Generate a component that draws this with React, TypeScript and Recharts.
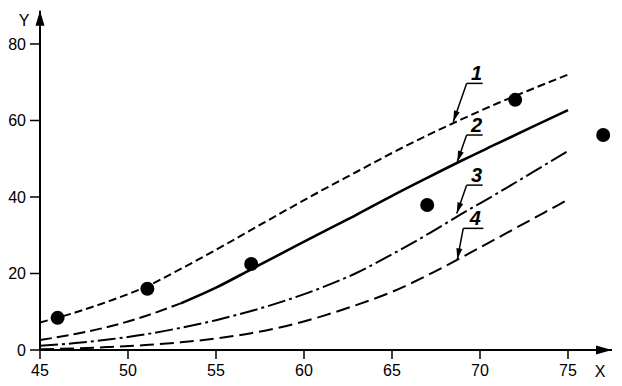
import React from 'react';
import { ComposedChart, Line, XAxis, YAxis, ReferenceLine } from 'recharts';

// ---- data ----
const curveX = [45, 47, 49, 51, 53, 55, 57, 59, 61, 63, 65, 67, 69, 71, 73, 75];
const curve1 = [7.2, 9.8, 12.9, 16.5, 21.2, 26.2, 31.4, 36.6, 41.7, 46.6, 51.5, 56.1, 60.4, 64.5, 68.3, 72];
const curve2 = [2.6, 4.2, 6.2, 8.9, 12.2, 16.3, 21.1, 25.9, 30.7, 35.4, 40.3, 45.0, 49.6, 54.0, 58.4, 62.7];
const curve2SolidFrom = 53;
const curve3 = [1.1, 1.8, 2.8, 4.1, 5.8, 7.8, 10.2, 13, 16.3, 20.2, 25, 30.2, 35.7, 41, 46.5, 52];
const curve4 = [0.2, 0.4, 0.8, 1.3, 2.0, 3.0, 4.4, 6.3, 8.8, 11.8, 15.2, 19.5, 24.3, 29.3, 34.3, 39.3];

const pointX = [46, 51.1, 57, 67, 72, 77];
const pointY = [8.4, 16, 22.5, 37.9, 65.4, 56.2];

const xTicks = [45, 50, 55, 60, 65, 70, 75];
const yTicks = [0, 20, 40, 60, 80];
const xDomain = [45, 77.5];
const yDomain = [0, 88.7];

const curveLabels = ['1', '2', '3', '4'];
// callout leader geometry in data units: tip on curve, elbow, end of underline
const calloutTip = [
  [68.48, 59.7],
  [68.71, 49.2],
  [68.68, 35.7],
  [68.71, 23.7],
];
const calloutElbow = [
  [69.24, 69.7],
  [69.24, 56.2],
  [69.24, 43.1],
  [69.05, 31.8],
];
const calloutEnd = [70.15, 70.15, 70.15, 70.19];

// ---- table ----
const allX = Array.from(new Set([...curveX, ...pointX])).sort((a, b) => a - b);
const table = allX.map((x) => {
  const row: any = { x };
  const i = curveX.indexOf(x);
  if (i >= 0) {
    row.c1 = curve1[i];
    if (x <= curve2SolidFrom) row.c2a = curve2[i];
    if (x >= curve2SolidFrom) row.c2b = curve2[i];
    row.c3 = curve3[i];
    row.c4 = curve4[i];
  }
  const j = pointX.indexOf(x);
  if (j >= 0) row.pt = pointY[j];
  return row;
});

const FONT = '"Liberation Sans", Arial, Helvetica, sans-serif';

function arrowHead(x1: number, y1: number, x2: number, y2: number, len: number, half: number) {
  const dx = x2 - x1;
  const dy = y2 - y1;
  const d = Math.sqrt(dx * dx + dy * dy) || 1;
  const ux = dx / d;
  const uy = dy / d;
  const bx = x2 - ux * len;
  const by = y2 - uy * len;
  const nx = -uy;
  const ny = ux;
  return `${x2},${y2} ${bx + nx * half},${by + ny * half} ${bx - nx * half},${by - ny * half}`;
}

const leaderShape = (p: any) => (
  <g>
    <line x1={p.x1} y1={p.y1} x2={p.x2} y2={p.y2} stroke="#000" strokeWidth={1.5} />
    <polygon points={arrowHead(p.x1, p.y1, p.x2, p.y2, 11, 3)} fill="#000" />
  </g>
);

const underlineShape = (label: string) => (p: any) => (
  <g>
    <line x1={p.x1} y1={p.y1} x2={p.x2} y2={p.y2} stroke="#000" strokeWidth={1.5} />
    <text
      x={(p.x1 + p.x2) / 2 + 2}
      y={p.y1 - 3}
      textAnchor="middle"
      fontFamily={FONT}
      fontStyle="italic"
      fontWeight="bold"
      fontSize={20}
      fill="#000"
    >
      {label}
    </text>
  </g>
);

const yArrowShape = (p: any) => (
  <g>
    <polygon points={arrowHead(p.x1, p.y1, p.x2, p.y2, 15, 4.5)} fill="#000" />
    <text x={p.x2 - 16} y={p.y2 + 15.5} textAnchor="middle" fontFamily={FONT} fontSize={16} fill="#000">
      Y
    </text>
  </g>
);

const xArrowShape = (p: any) => (
  <g>
    <polygon points={arrowHead(p.x1, p.y1, p.x2, p.y2, 16, 4.5)} fill="#000" />
    <text x={p.x2 - 12} y={p.y2 + 27} textAnchor="middle" fontFamily={FONT} fontSize={16} fill="#000">
      X
    </text>
  </g>
);

export default function App() {
  return (
    <div style={{ position: 'absolute', left: 0, top: 0, background: '#fff' }}>
      <ComposedChart
        width={622}
        height={386}
        data={table}
        margin={{ top: 10.7, right: 10, bottom: 6, left: 0 }}
      >
        <XAxis
          dataKey="x"
          type="number"
          domain={xDomain}
          ticks={xTicks}
          allowDataOverflow
          height={30}
          axisLine={{ stroke: '#000', strokeWidth: 2 }}
          tickLine={{ stroke: '#000', strokeWidth: 1.5 }}
          tickSize={9}
          tickMargin={6}
          tick={{ fill: '#000', fontSize: 16, fontFamily: FONT }}
        />
        <YAxis
          type="number"
          domain={yDomain}
          ticks={yTicks}
          allowDataOverflow
          width={40}
          axisLine={{ stroke: '#000', strokeWidth: 2 }}
          tickLine={{ stroke: '#000', strokeWidth: 1.5 }}
          tickSize={10}
          tickMargin={4}
          tick={{ fill: '#000', fontSize: 16, fontFamily: FONT }}
        />
        <Line dataKey="c1" type="monotone" stroke="#000" strokeWidth={2} strokeDasharray="8 4" dot={false} connectNulls isAnimationActive={false} />
        <Line dataKey="c2a" type="monotone" stroke="#000" strokeWidth={2} strokeDasharray="12 5" dot={false} connectNulls isAnimationActive={false} />
        <Line dataKey="c2b" type="monotone" stroke="#000" strokeWidth={2.6} dot={false} connectNulls isAnimationActive={false} />
        <Line dataKey="c3" type="monotone" stroke="#000" strokeWidth={2} strokeDasharray="18 4 3 4" dot={false} connectNulls isAnimationActive={false} />
        <Line dataKey="c4" type="monotone" stroke="#000" strokeWidth={2} strokeDasharray="14 6" dot={false} connectNulls isAnimationActive={false} />
        <Line dataKey="pt" stroke="none" dot={{ r: 7, fill: '#000', stroke: 'none' }} activeDot={false} isAnimationActive={false} />
        {curveLabels.map((lab, i) => (
          <ReferenceLine
            key={'u' + i}
            segment={[
              { x: calloutElbow[i][0], y: calloutElbow[i][1] },
              { x: calloutEnd[i], y: calloutElbow[i][1] },
            ]}
            ifOverflow="visible"
            shape={underlineShape(lab)}
          />
        ))}
        {curveLabels.map((lab, i) => (
          <ReferenceLine
            key={'l' + i}
            segment={[
              { x: calloutElbow[i][0], y: calloutElbow[i][1] },
              { x: calloutTip[i][0], y: calloutTip[i][1] },
            ]}
            ifOverflow="visible"
            shape={leaderShape}
          />
        ))}
        <ReferenceLine
          segment={[
            { x: xDomain[0], y: 80 },
            { x: xDomain[0], y: yDomain[1] },
          ]}
          ifOverflow="visible"
          shape={yArrowShape}
        />
        <ReferenceLine
          segment={[
            { x: 75, y: 0 },
            { x: xDomain[1], y: 0 },
          ]}
          ifOverflow="visible"
          shape={xArrowShape}
        />
      </ComposedChart>
    </div>
  );
}
